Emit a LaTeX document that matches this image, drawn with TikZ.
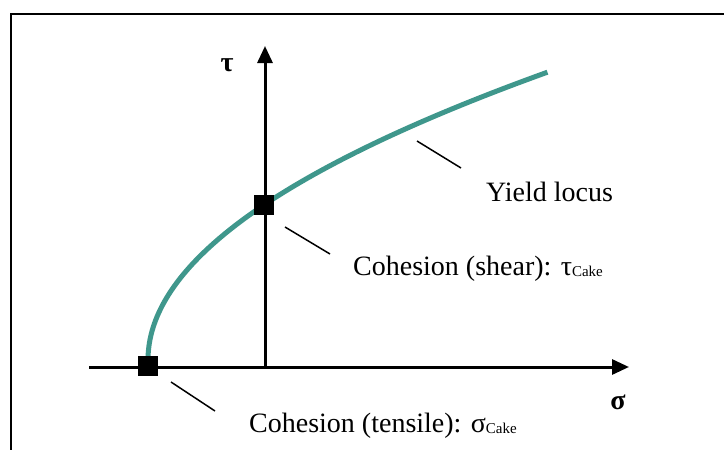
\documentclass[tikz,border=0pt]{standalone}
\usepackage{fontspec}
\setmainfont{Liberation Serif}
\usetikzlibrary{arrows.meta}
\definecolor{locusteal}{HTML}{3F978C}
\newcommand{\cakesub}{\raisebox{-1.5pt}{\fontsize{15}{18}\selectfont Cake}}

\tikzset{
  axisline/.style={line width=3pt, -{Triangle[length=17pt,width=15pt]}},
  marker/.style={fill=black, minimum size=20pt, inner sep=0pt},
  leader/.style={line width=1.5pt},
  labeltext/.style={inner sep=0pt, anchor=base west, font=\fontsize{28}{32}\selectfont},
  axislabel/.style={inner sep=0pt, font=\fontsize{28}{30}\selectfont\bfseries},
}

\begin{document}
\begin{tikzpicture}[x=1pt, y=-1pt]
  \useasboundingbox (0,0) rectangle (724,450);
  % frame, cut off at the right and bottom
  \draw[line width=2pt] (740,14) -- (11,14) -- (11,470);

  % axes
  \coordinate (origin) at (265,367);
  \coordinate (xstart) at (89,367);
  \coordinate (xend) at (629,367);
  \coordinate (yend) at (265,46);
  \draw[axisline] (xstart) -- (xend);
  \draw[axisline] (origin) -- (yend);
  \node[axislabel] (taulabel) at (227,65) {τ};
  \node[axislabel] (sigmalabel) at (618,402) {σ};

  % yield locus
  \draw[locusteal, line width=5pt] plot[domain=0:1, samples=80]
    ({148+400*\x*\x}, {360-288*\x});

  % cohesion points
  \node[marker] (tensile) at (148,366) {};
  \node[marker] (shear) at (264,205) {};

  % labels
  \node[labeltext] (locuslabel) at (486,201) {Yield locus};
  \node[labeltext] (shearlabel) at (353,275) {Cohesion (shear): τ\cakesub};
  \node[labeltext] (tensilelabel) at (249,432) {Cohesion (tensile): σ\cakesub};

  % leader lines
  \coordinate (l1a) at (417,141); \coordinate (l1b) at (461,168);
  \coordinate (l2a) at (285,227); \coordinate (l2b) at (330,254);
  \coordinate (l3a) at (171,382); \coordinate (l3b) at (215,411);
  \draw[leader] (l1a) -- (l1b);
  \draw[leader] (l2a) -- (l2b);
  \draw[leader] (l3a) -- (l3b);
\end{tikzpicture}
\end{document}
